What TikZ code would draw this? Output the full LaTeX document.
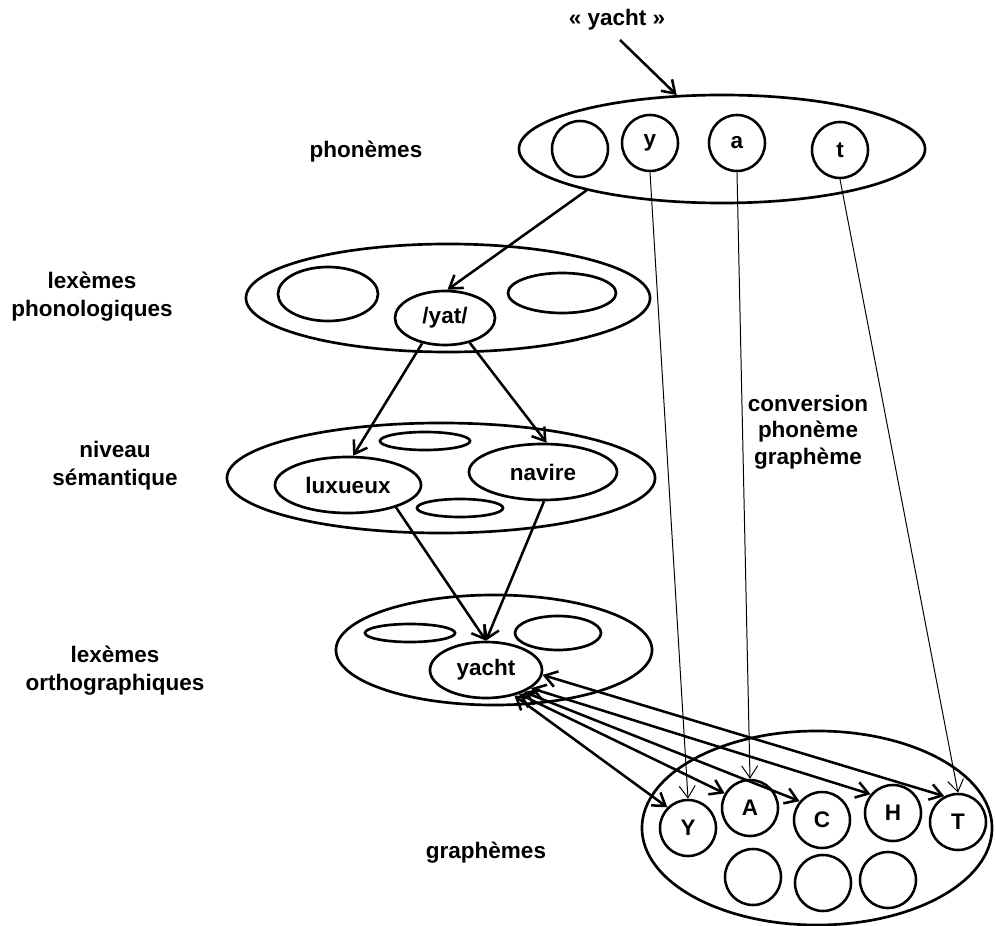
\documentclass[tikz,border=0pt]{standalone}
\usepackage{fontspec}
\setmainfont{Liberation Sans}
\usetikzlibrary{shapes.geometric,arrows.meta}
\begin{document}
\begin{tikzpicture}[x=0.025cm, y=-0.025cm,
   every node/.style={font=\fontsize{16}{20}\selectfont\bfseries},
   lev/.style={draw, ellipse, line width=1.9pt, inner sep=0pt},
   unit/.style={draw, circle, line width=1.8pt, inner sep=0pt, minimum size=1.4cm},
   lbl/.style={align=center},
   arr/.style={-{Straight Barb[length=3mm,width=4mm]}, line width=1.8pt},
   thin/.style={-{Straight Barb[length=3mm,width=4mm]}, line width=0.7pt},
   both/.style={{Straight Barb[length=3mm,width=4mm]}-{Straight Barb[length=3mm,width=4mm]}, line width=1.8pt}]
   \useasboundingbox (0,0) rectangle (996,926);

   \node (word) at (617,20) {« yacht »};
   \coordinate (in) at (620,40);

   \node[lbl] (lph) at (366,152) {phonèmes};
   \node[lbl] (llp) at (92,297) {lexèmes\\phonologiques};
   \node[lbl] (lsem) at (115,466) {niveau\\sémantique};
   \node[lbl] (llo) at (115,671) {lexèmes\\orthographiques};
   \node[lbl] (lgr) at (486,853) {graphèmes};
   \node[lbl, font=\fontsize{16}{19}\selectfont\bfseries] (lconv) at (808,432) {conversion\\phonème\\graphème};

   \node[lev, minimum width=10.15cm, minimum height=2.7cm] (ph) at (722,149) {};
   \node[unit] (p0) at (580,149) {};
   \node[unit] (py) at (650,143) {y};
   \node[unit] (pa) at (737,143) {a};
   \node[unit] (pt) at (840,150) {t};

   \node[lev, minimum width=10.1cm, minimum height=2.7cm] (lp) at (448,298) {};
   \node[lev, minimum width=2.5cm, minimum height=1.35cm] (lpa) at (328,294) {};
   \node[lev, minimum width=2.7cm, minimum height=1cm] (lpb) at (562,293) {};
   \node[lev, minimum width=2.5cm, minimum height=1.35cm] (yat) at (445,318) {/yat/};

   \node[lev, minimum width=10.7cm, minimum height=2.75cm] (sem) at (441,478) {};
   \node[lev, minimum width=2.25cm, minimum height=0.45cm] (sema) at (425,441) {};
   \node[lev, minimum width=2.15cm, minimum height=0.45cm] (semb) at (460,508) {};
   \node[lev, minimum width=3.65cm, minimum height=1.4cm] (lux) at (348,485) {luxueux};
   \node[lev, minimum width=3.7cm, minimum height=1.4cm] (nav) at (543,472) {navire};

   \node[lev, minimum width=7.9cm, minimum height=2.75cm] (lo) at (494,650) {};
   \node[lev, minimum width=2.25cm, minimum height=0.45cm] (loa) at (410,633) {};
   \node[lev, minimum width=2.15cm, minimum height=0.85cm] (lob) at (558,633) {};
   \node[lev, minimum width=2.8cm, minimum height=1.4cm] (yacht) at (486,670) {yacht};

   \node[lev, minimum width=8.75cm, minimum height=4.85cm] (gr) at (817,828) {};
   \node[unit] (gY) at (688,828) {Y};
   \node[unit] (gA) at (750,808) {A};
   \node[unit] (gC) at (822,820) {C};
   \node[unit] (gH) at (893,813) {H};
   \node[unit] (gT) at (958,822) {T};
   \node[unit] (g1) at (753,877) {};
   \node[unit] (g2) at (823,883) {};
   \node[unit] (g3) at (888,880) {};

   \draw[arr] (in) -- (ph.130);
   \draw[arr] (ph.197) -- (yat.85);
   \draw[arr] (yat.228) -- (lux.80);
   \draw[arr] (yat.315) -- (nav.83);
   \draw[arr] (lux.-25) -- (yacht.north);
   \draw[arr] (nav.-88) -- (yacht.north);

   \draw[thin] (py.south) -- (gY.north);
   \draw[thin] (pa.south) -- (gA.north);
   \draw[thin] (pt.south) -- (gT.north);

   \draw[both] (yacht.-42) -- (gY.135);
   \draw[both] (yacht.-36) -- (gA.150);
   \draw[both] (yacht.-30) -- (gC.140);
   \draw[both] (yacht.-22) -- (gH.140);
   \draw[both] (yacht.-5) -- (gT.118);
  \end{tikzpicture}
\end{document}
